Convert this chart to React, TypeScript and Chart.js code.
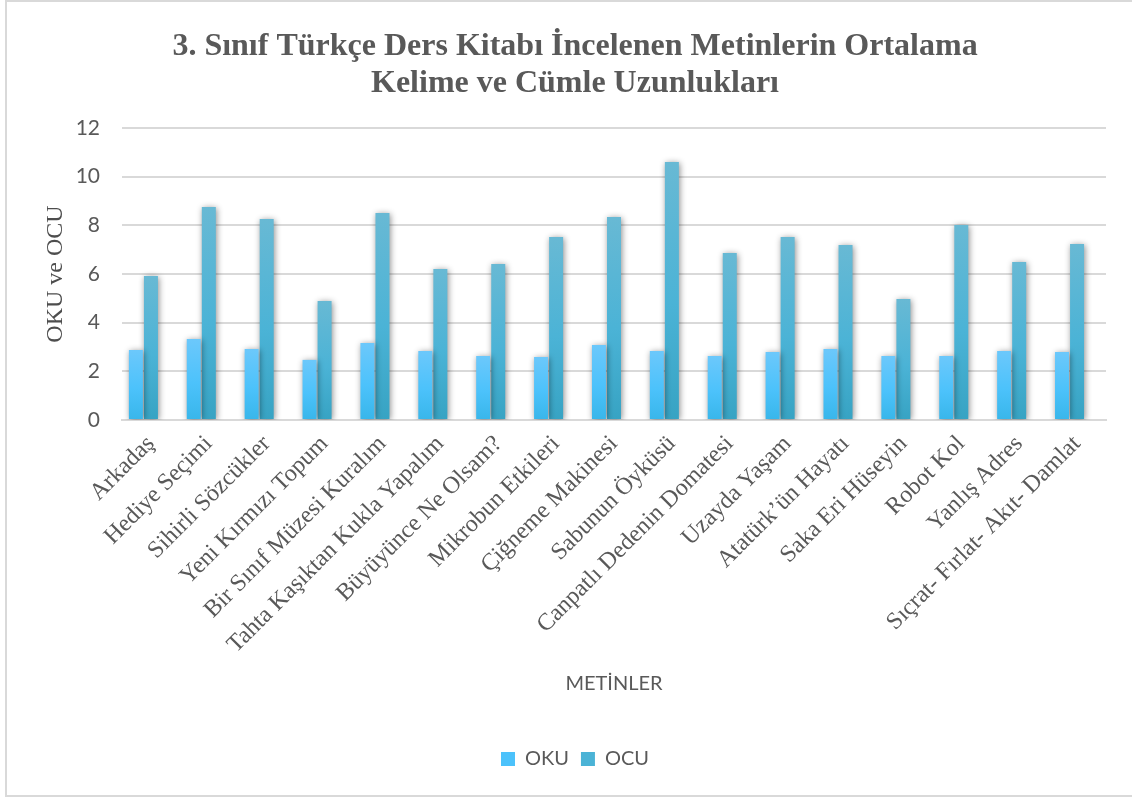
import React, { useEffect, useRef } from "react";
import { Chart, registerables } from "chart.js";

Chart.register(...registerables);

const titleLines = [
  "3. Sınıf Türkçe Ders Kitabı İncelenen Metinlerin Ortalama",
  "Kelime ve Cümle Uzunlukları",
];

const categories = [
  "Arkadaş",
  "Hediye Seçimi",
  "Sihirli Sözcükler",
  "Yeni Kırmızı Topum",
  "Bir Sınıf Müzesi Kuralım",
  "Tahta Kaşıktan Kukla Yapalım",
  "Büyüyünce Ne Olsam?",
  "Mikrobun Etkileri",
  "Çiğneme Makinesi",
  "Sabunun Öyküsü",
  "Canpatlı Dedenin Domatesi",
  "Uzayda Yaşam",
  "Atatürk’ün Hayatı",
  "Saka Eri Hüseyin",
  "Robot Kol",
  "Yanlış Adres",
  "Sıçrat- Fırlat- Akıt- Damlat",
];

// Ortalama kelime uzunluğu (OKU)
const okuValues = [2.88, 3.33, 2.92, 2.47, 3.16, 2.84, 2.63, 2.59, 3.08, 2.84, 2.63, 2.79, 2.92, 2.63, 2.63, 2.84, 2.79];
// Ortalama cümle uzunluğu (OCU)
const ocuValues = [5.92, 8.75, 8.26, 4.89, 8.51, 6.21, 6.41, 7.52, 8.34, 10.6, 6.86, 7.52, 7.19, 4.97, 8.01, 6.49, 7.23];
// Empty third slot in each cluster (keeps the two bars left of the category centre)
const emptySlot: (number | null)[] = [null, null, null, null, null, null, null, null, null, null, null, null, null, null, null, null, null];

const yMin = 0;
const yMax = 12;
const yStep = 2;

const TEXT = "#595959";
const SANS = "Lato, 'Open Sans', sans-serif";
const SERIF = "'Liberation Serif', 'DejaVu Serif', serif";

const okuColors = ["#6cc8fb", "#4cc2fb", "#38b6ea"];
const ocuColors = ["#68b9d4", "#4bb3d6", "#37a3c3"];

function barGradient(stops: string[]) {
  return (ctx: any) => {
    const chart = ctx.chart;
    if (ctx.type !== "data" || !chart.chartArea || ctx.raw == null) return stops[1];
    const y = chart.scales.y;
    const top = y.getPixelForValue(ctx.raw);
    const base = y.getPixelForValue(0);
    const g = chart.ctx.createLinearGradient(0, top, 0, base);
    g.addColorStop(0, stops[0]);
    g.addColorStop(0.55, stops[1]);
    g.addColorStop(1, stops[2]);
    return g;
  };
}

// Soft outer shadow around the bars
const barShadow = {
  id: "barShadow",
  beforeDatasetsDraw(chart: any) {
    const c = chart.ctx;
    c.save();
    c.shadowColor = "rgba(0,0,0,0.45)";
    c.shadowBlur = 6;
    c.shadowOffsetX = 1;
    c.shadowOffsetY = 1;
  },
  afterDatasetsDraw(chart: any) {
    chart.ctx.restore();
  },
};

export default function App() {
  const canvasRef = useRef<HTMLCanvasElement>(null);

  useEffect(() => {
    const canvas = canvasRef.current;
    if (!canvas) return;

    const chart = new Chart(canvas, {
      type: "bar",
      data: {
        labels: categories,
        datasets: [
          { label: "OKU", data: okuValues, backgroundColor: barGradient(okuColors), borderWidth: 0 },
          { label: "OCU", data: ocuValues, backgroundColor: barGradient(ocuColors), borderWidth: 0 },
          { label: "", data: emptySlot, backgroundColor: "transparent", borderWidth: 0 },
        ],
      },
      plugins: [barShadow],
      options: {
        responsive: false,
        animation: false,
        devicePixelRatio: 1,
        datasets: {
          bar: { categoryPercentage: 0.78, barPercentage: 0.93 },
        },
        layout: { padding: { left: 44, right: 26, top: 0, bottom: 19 } },
        plugins: {
          title: {
            display: true,
            text: titleLines,
            color: TEXT,
            font: { family: SERIF, size: 32, weight: "bold", lineHeight: 1.156 },
            padding: { top: 28, bottom: 26 },
          },
          legend: {
            position: "bottom",
            labels: {
              color: TEXT,
              font: { family: SANS, size: 20 },
              boxWidth: 14,
              boxHeight: 14,
              padding: 12,
              generateLabels: (ch: any) =>
                ch.data.datasets.slice(0, 2).map((ds: any, i: number) => ({
                  text: ds.label,
                  fillStyle: i === 0 ? okuColors[1] : ocuColors[1],
                  strokeStyle: "transparent",
                  lineWidth: 0,
                  fontColor: TEXT,
                  hidden: false,
                  datasetIndex: i,
                })),
            },
          },
          tooltip: { enabled: false },
        },
        scales: {
          x: {
            grid: { display: false, drawTicks: false },
            border: { display: true, color: "#d9d9d9", width: 2 },
            ticks: {
              autoSkip: false,
              minRotation: 45,
              maxRotation: 45,
              padding: 10,
              color: TEXT,
              font: { family: SERIF, size: 24 },
            },
            title: {
              display: true,
              text: "METİNLER",
              color: TEXT,
              font: { family: SANS, size: 20 },
              padding: { top: 0, bottom: 41 },
            },
            afterFit: (scale: any) => {
              scale.height = 317;
            },
          },
          y: {
            min: yMin,
            max: yMax,
            grid: { color: "#d9d9d9", lineWidth: 2, drawTicks: false },
            border: { display: false },
            ticks: {
              stepSize: yStep,
              padding: 22,
              color: TEXT,
              font: { family: SANS, size: 21 },
            },
            title: {
              display: true,
              text: "OKU ve OCU",
              color: "#4d4d4d",
              font: { family: SERIF, size: 24, lineHeight: 1.0 },
              padding: { top: 0, bottom: 0 },
            },
            afterFit: (scale: any) => {
              scale.width = 78;
            },
          },
        },
      },
    });

    return () => chart.destroy();
  }, []);

  return (
    <div
      style={{
        position: "fixed",
        left: 0,
        top: 0,
        width: 1132,
        height: 798,
        overflow: "hidden",
        background: "#ffffff",
      }}
    >
      <div
        style={{
          position: "absolute",
          left: 5,
          top: 0,
          width: 1200,
          height: 797,
          border: "2px solid #d9d9d9",
          boxSizing: "border-box",
        }}
      />
      <canvas
        ref={canvasRef}
        width={1132}
        height={798}
        style={{ position: "absolute", left: 0, top: 0, width: 1132, height: 798 }}
      />
    </div>
  );
}
